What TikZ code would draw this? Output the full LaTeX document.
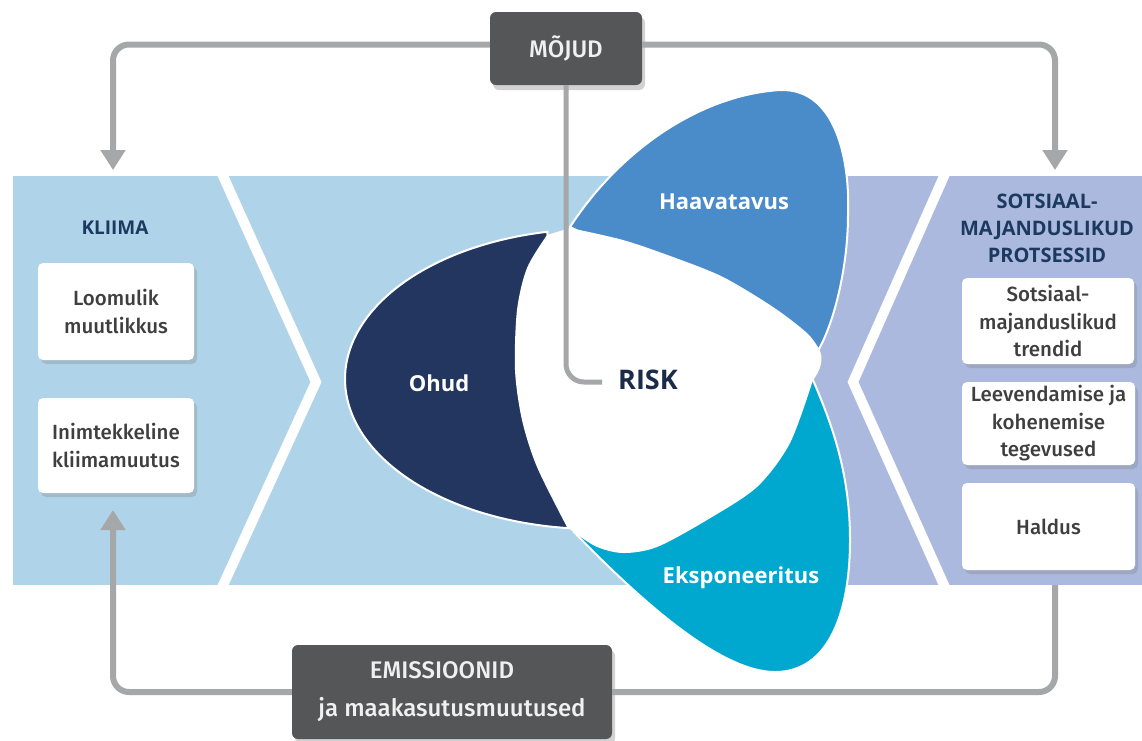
\documentclass[tikz,border=0pt]{standalone}
\usepackage{fontspec}
\setmainfont{Open Sans}
\IfFontExistsTF{Fira Sans Medium}{\newfontfamily\medfont{Fira Sans Medium}}{\newfontfamily\medfont{Open Sans}}
\usetikzlibrary{arrows.meta,shadows}
\definecolor{bandblue}{HTML}{AFD4EA}
\definecolor{lav}{HTML}{ABB9DE}
\definecolor{navy}{HTML}{22365F}
\definecolor{midblue}{HTML}{4A8BC9}
\definecolor{cyanp}{HTML}{00A7CF}
\definecolor{boxgray}{HTML}{545657}
\definecolor{linegray}{HTML}{A6A7A9}
\definecolor{titleblue}{HTML}{1C3A5E}
\definecolor{riskblue}{HTML}{1B2C48}
\definecolor{txtgray}{HTML}{3F3F3F}
\begin{document}
\begin{tikzpicture}[x=1pt,y=-1pt,
  wbox/.style={fill=white, rounded corners=5pt, inner sep=0pt,
    drop shadow={shadow xshift=3pt,shadow yshift=-4pt,opacity=0.3},
    align=center, text=txtgray, font=\medfont\fontsize{20.5}{27.5}\selectfont},
  dbox/.style={fill=boxgray, rounded corners=6pt, inner sep=0pt,
    drop shadow={shadow xshift=3pt,shadow yshift=-5pt,opacity=0.35},
    align=center, text=white!94!black},
  linkline/.style={draw=linegray, line width=6pt, rounded corners=16pt},
  arrowend/.style={-{Triangle[width=24pt,length=20pt]}},
  petalline/.style={draw=white, line width=2pt},
  petaltext/.style={text=white, font=\bfseries\fontsize{22}{26}\selectfont},
  chev/.style={draw=white, line width=10pt, line join=miter}
]
\useasboundingbox (0,0) rectangle (1142,740);
\fill[white] (0,0) rectangle (1142,740);
% bands
\fill[bandblue] (13,176) rectangle (800,585);
\fill[lav] (800,176) rectangle (1142,585);
% chevrons
\draw[chev] (219,167) -- (316,382) -- (219,594);
\draw[chev] (948,167) -- (853,382) -- (948,594);
% petals
\filldraw[fill=navy,petalline] plot[domain=96:259,samples=90] ({595+250*cos(\x)},{379+150*sin(\x)}) -- cycle;
\filldraw[fill=midblue,petalline] (570,227) .. controls (620,150) and (700,95) .. (780,90)
  .. controls (840,88) and (850,170) .. (848,215)
  .. controls (848,265) and (835,320) .. (819,349) -- cycle;
\filldraw[fill=cyanp,petalline] (574,532) .. controls (640,600) and (720,672) .. (775,672)
  .. controls (830,672) and (850,610) .. (850,540)
  .. controls (850,470) and (830,420) .. (813,380) -- cycle;
% white centre
\fill[white] (547,235) -- plot[smooth] coordinates {(570,228) (623,240) (673,257) (723,277) (773,307) (807,333) (819,349)}
  .. controls (824,358) and (821,370) .. (813,380)
  -- plot[smooth] coordinates {(813,380) (790,443) (757,487) (707,520) (657,547) (623,553) (595,546) (567,527)}
  -- plot[smooth] coordinates {(567,527) (537,467) (522,420) (515,370) (517,310) (527,268) (547,235)} -- cycle;
% petal labels
\node[petaltext] (ohud) at (439,383) {Ohud};
\node[petaltext] (haav) at (724,202) {Haavatavus};
\node[petaltext] (eksp) at (741,578) {Eksponeeritus};
\node[text=riskblue, font=\bfseries\fontsize{27}{30}\selectfont] (risk) at (648,380) {RISK};
% left panel
\node[text=titleblue, font=\bfseries\fontsize{19}{24}\selectfont] (kliima) at (115,228) {KLIIMA};
\node[wbox, minimum width=156pt, minimum height=97pt] (loom) at (116,311.5) {Loomulik\\muutlikkus};
\node[wbox, minimum width=156pt, minimum height=95pt] (inim) at (116,445.5) {Inimtekkeline\\kliimamuutus};
% right panel
\node[text=titleblue, align=center, font=\bfseries\fontsize{20}{27}\selectfont] (sots) at (1047,228) {SOTSIAAL-\\MAJANDUSLIKUD\\PROTSESSID};
\node[wbox, minimum width=172pt, minimum height=86pt] (trend) at (1048,321) {Sotsiaal-\\majanduslikud\\trendid};
\node[wbox, minimum width=173pt, minimum height=83pt] (leev) at (1048.5,423.5) {Leevendamise ja\\kohenemise\\tegevused};
\node[wbox, minimum width=173pt, minimum height=87pt] (hald) at (1048.5,526.5) {Haldus};
% dark boxes
\node[dbox, minimum width=152pt, minimum height=73pt, font=\medfont\fontsize{24}{30}\selectfont] (mojud) at (566,48.5) {MÕJUD};
\node[dbox, minimum width=320pt, minimum height=94pt, font=\medfont\fontsize{24}{38}\selectfont] (emis) at (452,692) {EMISSIOONID\hspace*{20pt}\\ja maakasutusmuutused};
% connector end points
\coordinate (kltop) at (113,170);
\coordinate (sotop) at (1055,170);
\coordinate (klbot) at (113,510);
\coordinate (sobot) at (1055,585);
\coordinate (riskend) at (602,382);
% connectors
\draw[linkline, arrowend] ([yshift=4pt]mojud.west) -| (kltop);
\draw[linkline, arrowend] ([yshift=4pt]mojud.east) -| (sotop);
\draw[linkline, line width=5pt, rounded corners=18pt] (mojud.south) |- (riskend);
\draw[linkline, arrowend] (emis.west) -| (klbot);
\draw[linkline] (emis.east) -| (sobot);
\end{tikzpicture}
\end{document}
